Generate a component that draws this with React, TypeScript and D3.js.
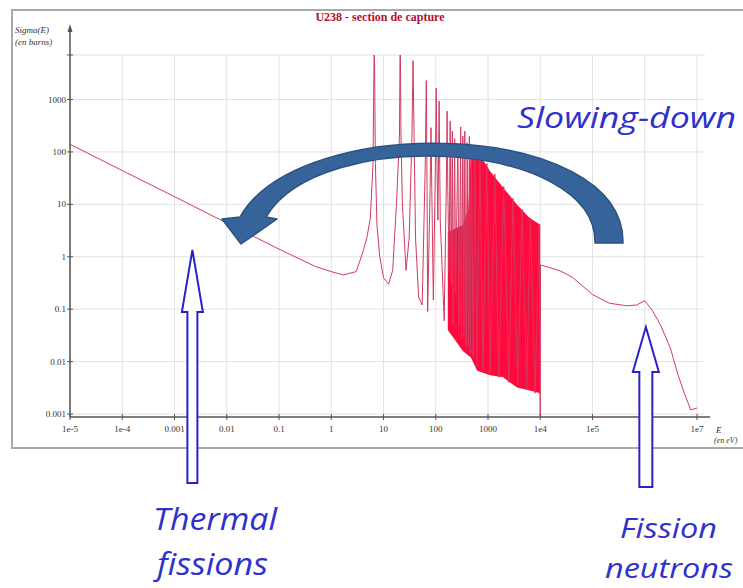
import * as d3 from "d3";

const width = 743;
const height = 588;

// U238 capture cross-section as [E (eV), sigma (barns)]
const thermalBranch: [number, number][] = [
  [1e-5, 140], [1e-4, 44], [1e-3, 14], [1e-2, 4.4], [0.1, 1.4], [0.5, 0.65],
  [1, 0.52], [1.7, 0.45], [3, 0.52], [4, 1.2], [4.8, 2.3], [5.6, 5.5], [6.3, 60],
];
const resolvedPeaks: [number, number][] = [
  [6.67, 20000], [7.0, 60], [7.5, 4], [8.5, 1], [10, 0.4], [12.5, 0.3], [15, 0.55],
  [17.7, 10], [20.2, 200], [20.9, 20000], [21.6, 200], [23, 10], [27, 0.55], [31, 2.3],
  [35, 200], [36.7, 5500], [38.5, 200], [41, 2.3], [47, 0.17], [55, 0.12], [63, 60],
  [66, 2300], [68, 30], [70, 0.09], [78, 20], [81, 290], [84, 20], [90, 0.15], [98, 40],
  [102, 1650], [106, 50], [110, 5], [116, 940], [122, 5], [145, 0.06], [160, 30],
  [165, 600], [170, 20], [180, 0.5], [189, 390], [198, 0.3], [208, 250], [215, 0.05],
  [230, 180], [240, 0.2], [265, 140], [280, 0.05], [300, 300], [310, 0.03], [330, 200],
  [345, 0.03], [360, 250], [380, 0.02], [400, 150], [420, 0.02], [440, 200], [460, 0.015],
];
const unresolvedPeaks: [number, number][] = [
  [480, 120], [520, 0.012], [560, 110], [620, 0.008], [700, 90], [800, 0.007],
  [950, 60], [1100, 0.006], [1350, 38], [1600, 0.005], [2000, 22], [2500, 0.004],
  [3000, 13], [3700, 0.0035], [4500, 8], [5500, 0.003], [6500, 5.5], [8000, 0.0025],
  [9500, 4], [10000, 0.0009],
];
const fastBranch: [number, number][] = [
  [10100, 0.7], [24000, 0.54], [42000, 0.4], [1e5, 0.19], [2.1e5, 0.13], [4.5e5, 0.116],
  [7e5, 0.12], [1e6, 0.145], [1.4e6, 0.094], [2e6, 0.05], [3.1e6, 0.018], [4.3e6, 0.0057],
  [5.8e6, 0.0024], [7.6e6, 0.0012], [1e7, 0.0013],
];

// envelope of the dense resonance band
const denseE = [170, 330, 420, 470, 620, 1100, 1940, 3600, 6300, 10000];
const denseTop = [3, 4, 8, 110, 105, 43, 21, 9.8, 5.5, 4.1];
const denseBottom = [0.04, 0.016, 0.013, 0.012, 0.0067, 0.0055, 0.005, 0.0032, 0.0028, 0.0025];

const xTicks = [1e-5, 1e-4, 1e-3, 1e-2, 0.1, 1, 10, 100, 1000, 1e4, 1e5, 1e6, 1e7];
const xTickLabels = ["1e-5", "1e-4", "0.001", "0.01", "0.1", "1", "10", "100", "1000", "1e4", "1e5", "1e6", "1e7"];
const yTicks = [1e-3, 1e-2, 0.1, 1, 10, 100, 1000];
const yTickLabels = ["0.001", "0.01", "0.1", "1", "10", "100", "1000"];

// hollow arrows: energy they point at
const arrowEnergies = [0.0022, 1.05e6];

const left = 70;
const right = 705;
const top = 55;
const bottom = 417;

const x = d3.scaleLog().domain([1e-5, 1e7]).range([left, 697]);
const y = d3.scaleLog().domain([1e-3, 1e3]).range([414, 99.5]);

const App = () => {
  const line = d3.line<[number, number]>().x((d) => x(d[0])).y((d) => y(d[1]));
  const band = d3
    .area<number>()
    .x((d) => x(d))
    .y0((_, i) => y(denseBottom[i]))
    .y1((_, i) => y(denseTop[i]));
  const curve = [...thermalBranch, ...resolvedPeaks, ...unresolvedPeaks, ...fastBranch];

  const gridY = [...yTicks.map((v) => y(v)), top];

  const blue = "#3030cc";
  const annotFont = "'Open Sans', sans-serif";
  const serif = "'Liberation Serif', serif";

  const hollow = (cx: number, tipY: number, headY: number, endY: number, hw: number, sw: number) =>
    `M${cx},${tipY} L${cx + hw},${headY} L${cx + sw},${headY} L${cx + sw},${endY} L${cx - sw},${endY} L${cx - sw},${headY} L${cx - hw},${headY} Z`;

  return (
    <svg
      width={width}
      height={height}
      style={{ position: "fixed", left: 0, top: 0, background: "#fff" }}
    >
      <defs>
        <clipPath id="plot">
          <rect x={left} y={top} width={right - left} height={bottom - top} />
        </clipPath>
      </defs>
      <rect x={12} y={10} width={740} height={438} fill="#fff" stroke="#a8a8a8" strokeWidth={2} />

      {/* grid */}
      {xTicks.map((t) => (
        <line key={"gx" + t} x1={x(t)} x2={x(t)} y1={top} y2={bottom} stroke="#e2e2e2" />
      ))}
      {gridY.map((v, i) => (
        <line key={"gy" + i} x1={left} x2={right} y1={v} y2={v} stroke="#e2e2e2" />
      ))}

      {/* data */}
      <g clipPath="url(#plot)">
        <path d={band(denseE) || ""} fill="#ff0a3c" />
        <path d={line(curve) || ""} fill="none" stroke="#d23a60" strokeWidth={1} strokeLinejoin="round" />
      </g>

      {/* axes */}
      <line x1={left} x2={left} y1={bottom} y2={28} stroke="#555" strokeWidth={1.5} />
      <path d={`M${left - 2.5},32 L${left},24 L${left + 2.5},32 Z`} fill="#555" />
      <line x1={left} x2={710} y1={bottom} y2={bottom} stroke="#555" strokeWidth={1.5} />
      {xTicks.map((t, i) => (
        <g key={"xt" + t}>
          <line x1={x(t)} x2={x(t)} y1={bottom - 3} y2={bottom + 3} stroke="#555" />
          <text x={x(t)} y={432} textAnchor="middle" fontFamily={serif} fontSize={9} fill="#333">
            {xTickLabels[i]}
          </text>
        </g>
      ))}
      {yTicks.map((t, i) => (
        <g key={"yt" + t}>
          <line x1={left - 3} x2={left + 3} y1={y(t)} y2={y(t)} stroke="#555" />
          <text x={left - 4} y={y(t) + 3} textAnchor="end" fontFamily={serif} fontSize={9} fill="#333">
            {yTickLabels[i]}
          </text>
        </g>
      ))}
      <line x1={left - 3} x2={left + 3} y1={top} y2={top} stroke="#555" />
      <text x={15} y={33} fontFamily={serif} fontStyle="italic" fontSize={9} fill="#333">
        Sigma(E)
      </text>
      <text x={15} y={45} fontFamily={serif} fontStyle="italic" fontSize={9} fill="#333">
        (en barns)
      </text>
      <text x={716} y={433} fontFamily={serif} fontStyle="italic" fontSize={9} fill="#333">
        E
      </text>
      <text x={714} y={443} fontFamily={serif} fontStyle="italic" fontSize={8} fill="#333">
        (en eV)
      </text>
      <text x={380} y={21} textAnchor="middle" fontFamily={serif} fontWeight="bold" fontSize={12} fill="#b0102e">
        U238 - section de capture
      </text>

      {/* slowing-down arrow */}
      <path
        d="M623,243 C625,120 300,110 240,217 L222,219 L241,244 L277,219 L266,217 C320,125 597,140 595,243 Z"
        fill="#36649a"
        stroke="#2b5283"
        strokeWidth={1.5}
        strokeLinejoin="round"
      />
      <text
        x={517}
        y={128}
        fontFamily={annotFont}
        fontStyle="italic"
        fontSize={30}
        fill={blue}
        textLength={219}
        lengthAdjust="spacingAndGlyphs"
      >
        Slowing-down
      </text>

      {/* hollow arrows */}
      <path d={hollow(x(arrowEnergies[0]), 250, 312, 483, 10.5, 5)} fill="#fff" stroke="#2a22c8" strokeWidth={2} />
      <path d={hollow(x(arrowEnergies[1]), 327, 372, 487, 13, 6.5)} fill="#fff" stroke="#2a22c8" strokeWidth={2} />

      <text x={153} y={530} fontFamily={annotFont} fontStyle="italic" fontSize={31} fill={blue} textLength={124} lengthAdjust="spacingAndGlyphs">
        Thermal
      </text>
      <text x={157} y={575} fontFamily={annotFont} fontStyle="italic" fontSize={31} fill={blue} textLength={111} lengthAdjust="spacingAndGlyphs">
        fissions
      </text>
      <text x={620} y={538} fontFamily={annotFont} fontStyle="italic" fontSize={28} fill={blue} textLength={97} lengthAdjust="spacingAndGlyphs">
        Fission
      </text>
      <text x={605} y={578} fontFamily={annotFont} fontStyle="italic" fontSize={28} fill={blue} textLength={128} lengthAdjust="spacingAndGlyphs">
        neutrons
      </text>
    </svg>
  );
};

export default App;
